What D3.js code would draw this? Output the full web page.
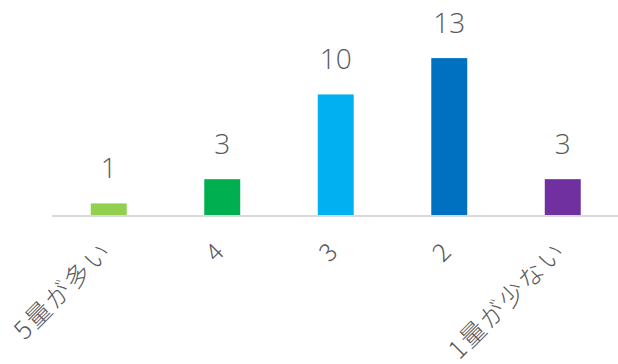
<!DOCTYPE html>
<html>
<head>
<meta charset="utf-8">
<script src="https://cdn.jsdelivr.net/npm/d3@7"></script>
<style>
  html, body { margin: 0; padding: 0; background: #fff; }
  svg { display: block; }
</style>
</head>
<body>
<svg id="chart" width="618" height="364"></svg>
<script>
// Answer counts per rating (5 = most, 1 = least)
const categories = ["5量が多い", "4", "3", "2", "1量が少ない"];
const counts = [1, 3, 10, 13, 3];
const barColors = ["#92D050", "#00B050", "#00B0F0", "#0070C0", "#7030A0"];

const svg = d3.select("#chart");
const baseY = 215.5;

const x = d3.scaleBand()
  .domain(categories)
  .range([52, 619.5])
  .paddingInner(0.683)
  .paddingOuter(0.3415);

const y = d3.scaleLinear()
  .domain([0, 14])
  .range([baseY, 46]);

const rows = categories.map((c, i) => ({ cat: c, value: counts[i], color: barColors[i] }));

// Bars
svg.append("g")
  .selectAll("rect")
  .data(rows)
  .join("rect")
  .attr("x", d => x(d.cat))
  .attr("y", d => y(d.value))
  .attr("width", x.bandwidth())
  .attr("height", d => y(0) - y(d.value))
  .attr("fill", d => d.color);

// Category axis line
svg.append("line")
  .attr("x1", 52).attr("x2", 619.5)
  .attr("y1", baseY + 0.5).attr("y2", baseY + 0.5)
  .attr("stroke", "#D9D9D9")
  .attr("stroke-width", 2);

// Value labels above each bar
svg.append("g")
  .selectAll("text")
  .data(rows)
  .join("text")
  .attr("x", d => x(d.cat) + x.bandwidth() / 2)
  .attr("y", d => y(d.value) - 25)
  .attr("text-anchor", "middle")
  .attr("font-family", "'Open Sans', 'Noto Sans CJK JP', sans-serif")
  .attr("font-weight", 300)
  .attr("font-size", 28)
  .attr("fill", "#595959")
  .text(d => d.value);

// Rotated category labels
svg.append("g")
  .selectAll("text")
  .data(rows)
  .join("text")
  .attr("transform", d => `translate(${x(d.cat) + x.bandwidth() / 2 + 5},252) rotate(-45)`)
  .attr("text-anchor", "end")
  .attr("font-family", "'Noto Sans CJK JP', sans-serif")
  .attr("font-weight", 300)
  .attr("font-size", 25)
  .attr("letter-spacing", 2.5)
  .attr("fill", "#595959")
  .text(d => d.cat);
</script>
</body>
</html>
